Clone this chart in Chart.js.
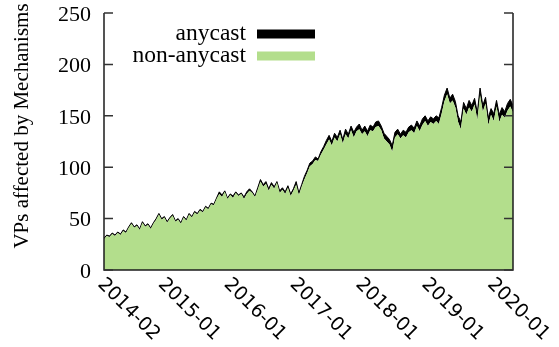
<!DOCTYPE html>
<html>
<head>
<meta charset="utf-8">
<script src="https://cdn.jsdelivr.net/npm/chart.js@4/dist/chart.umd.min.js"></script>
<style>
  html, body { margin: 0; padding: 0; background: #fff; }
  #wrap { width: 559px; height: 347px; }
</style>
</head>
<body>
<div id="wrap"><canvas id="c" width="559" height="347"></canvas></div>
<script>
// Month ticks, counted in months after 2014-02
const tickLabels = ['2014-02', '2015-01', '2016-01', '2017-01', '2018-01', '2019-01', '2020-01'];
const tickMonths = [0, 11, 23, 35, 47, 59, 71];
const yTicks = [0, 50, 100, 150, 200, 250];
const seriesNames = ['anycast', 'non-anycast'];

// Vantage points affected, one sample every half month starting 2014-02
const nonAnycast = [
  30, 33, 32, 35, 33, 36, 34, 38, 36, 41,
  45, 41, 43, 39, 46, 42, 44, 40, 45, 49,
  54, 49, 51, 46, 50, 53, 47, 49, 45, 51,
  48, 54, 51, 56, 54, 58, 56, 61, 59, 64,
  63, 69, 74, 71, 76, 69, 73, 70, 75, 72,
  74, 69, 74, 77, 75, 71, 78, 86, 81, 84,
  77, 83, 79, 85, 75, 78, 74, 80, 72, 77,
  83, 73, 81, 88, 94, 101, 103, 107, 106, 112,
  117, 122, 127, 121, 129, 125, 132, 123, 132, 128,
  136, 129, 135, 137, 132, 135, 130, 136, 135, 139,
  140, 136, 128, 125, 122, 115, 129, 132, 128, 131,
  129, 134, 136, 133, 140, 135, 141, 145, 140, 144,
  142, 145, 142, 152, 164, 171, 162, 165, 158, 144,
  137, 157, 151, 158, 154, 161, 146, 170, 154, 162,
  141, 151, 145, 159, 144, 151, 148, 155, 159, 153
];
const anycast = [
  1, 1, 1, 1, 1, 1, 1, 1, 1, 1,
  1, 1, 1, 1, 1, 1, 1, 1, 1, 1,
  1, 1, 1, 1, 1, 1, 1, 1, 1, 1,
  1, 1, 1, 1, 1, 1, 1, 1, 1, 1,
  1, 1, 2, 2, 1, 1, 1, 2, 1, 1,
  1, 2, 2, 2, 1, 1, 2, 2, 2, 2,
  2, 2, 2, 1, 2, 2, 2, 2, 2, 2,
  3, 2, 2, 3, 3, 3, 3, 3, 2, 3,
  3, 4, 4, 4, 4, 4, 4, 4, 5, 4,
  4, 5, 4, 5, 4, 5, 5, 5, 4, 5,
  5, 4, 5, 5, 5, 6, 5, 5, 4, 5,
  5, 5, 5, 5, 5, 5, 6, 5, 5, 5,
  5, 5, 6, 6, 6, 6, 5, 6, 6, 6,
  7, 6, 6, 7, 6, 6, 7, 7, 6, 6,
  7, 6, 7, 6, 7, 7, 6, 7, 7, 7
];
const sampleMonths = nonAnycast.map((_, i) => i / 2);

const GREEN = '#b3de8c';
const INK = '#1c1c1c';
const SERIF = '"Liberation Serif", "Times New Roman", serif';

// Frame, inward ticks, rotated month labels, axis title and legend
const decorations = {
  id: 'decorations',
  afterDatasetsDraw(chart) {
    const { ctx, chartArea: a, scales: { x, y } } = chart;
    ctx.save();

    // left, bottom and right border (no top border)
    ctx.strokeStyle = INK;
    ctx.lineWidth = 1.5;
    ctx.beginPath();
    ctx.moveTo(a.left, a.top);
    ctx.lineTo(a.left, a.bottom);
    ctx.lineTo(a.right, a.bottom);
    ctx.lineTo(a.right, a.top);
    ctx.stroke();

    // y ticks pointing inward on both sides
    ctx.strokeStyle = '#333';
    yTicks.forEach(v => {
      const py = y.getPixelForValue(v);
      ctx.beginPath();
      ctx.moveTo(a.left, py); ctx.lineTo(a.left + 9, py);
      ctx.moveTo(a.right, py); ctx.lineTo(a.right - 9, py);
      ctx.stroke();
    });

    // month labels, slanted downward to the right
    ctx.fillStyle = '#000';
    ctx.font = '19px "DejaVu Sans", sans-serif';
    ctx.textAlign = 'left';
    ctx.textBaseline = 'alphabetic';
    tickMonths.forEach((m, i) => {
      const px = x.getPixelForValue(m);
      ctx.save();
      ctx.translate(px - 7, a.bottom + 15);
      ctx.rotate(Math.PI / 4);
      ctx.fillText(tickLabels[i], 0, 0);
      ctx.restore();
    });

    // y axis title
    ctx.save();
    ctx.font = '21px ' + SERIF;
    ctx.textAlign = 'center';
    ctx.textBaseline = 'middle';
    ctx.translate(22, 126);
    ctx.rotate(-Math.PI / 2);
    ctx.fillText('VPs affected by Mechanisms', 0, 0);
    ctx.restore();

    // legend: right-aligned names followed by swatches
    const entries = [
      { name: seriesNames[0], color: '#000', cy: 34 },
      { name: seriesNames[1], color: GREEN, cy: 56 }
    ];
    ctx.font = '23.5px ' + SERIF;
    ctx.textAlign = 'right';
    ctx.textBaseline = 'middle';
    entries.forEach(e => {
      ctx.fillStyle = '#000';
      ctx.fillText(e.name, 246, e.cy);
      ctx.fillStyle = e.color;
      ctx.fillRect(257, e.cy - 4.5, 58, 9);
    });

    ctx.restore();
  }
};

new Chart(document.getElementById('c'), {
  type: 'line',
  data: {
    datasets: [
      {
        label: seriesNames[1],
        data: sampleMonths.map((m, i) => ({ x: m, y: nonAnycast[i] })),
        backgroundColor: GREEN,
        borderColor: 'rgba(0,0,0,0)',
        borderWidth: 0,
        pointRadius: 0,
        fill: 'origin',
        tension: 0
      },
      {
        label: seriesNames[0],
        data: sampleMonths.map((m, i) => ({ x: m, y: anycast[i] })),
        backgroundColor: '#000',
        borderColor: '#000',
        borderWidth: 1,
        pointRadius: 0,
        fill: '-1',
        tension: 0
      }
    ]
  },
  options: {
    responsive: false,
    devicePixelRatio: 1,
    animation: false,
    layout: { padding: { top: 13, right: 46, bottom: 77, left: 0 } },
    plugins: { legend: { display: false }, tooltip: { enabled: false } },
    scales: {
      x: {
        type: 'linear',
        min: 0,
        max: (nonAnycast.length - 1) / 2,
        display: false
      },
      y: {
        stacked: true,
        min: 0,
        max: 250,
        afterFit(scale) {
          scale.width = 104;
          scale.paddingTop = 0;
          scale.paddingBottom = 0;
        },
        afterBuildTicks(scale) { scale.ticks = yTicks.map(v => ({ value: v })); },
        grid: { display: false, drawTicks: false },
        border: { display: false },
        ticks: {
          padding: 13,
          labelOffset: 2,
          color: '#000',
          font: { family: SERIF, size: 22 }
        }
      }
    }
  },
  plugins: [decorations]
});
</script>
</body>
</html>
